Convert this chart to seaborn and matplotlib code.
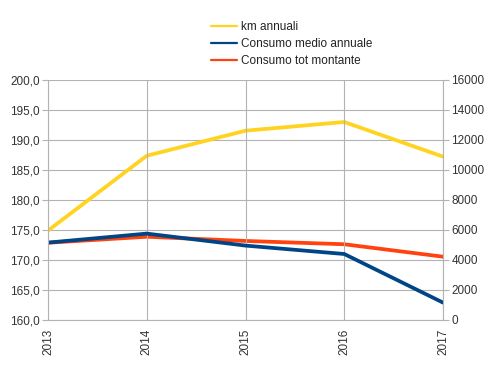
import matplotlib
matplotlib.use("Agg")
import matplotlib.pyplot as plt
import seaborn as sns
import pandas as pd
from matplotlib.ticker import FuncFormatter, MultipleLocator

years = [2013, 2014, 2015, 2016, 2017]
km_annuali = [5960, 10950, 12620, 13200, 10890]
consumo_medio = [172.9, 174.4, 172.4, 171.0, 162.9]
consumo_tot = [5150, 5550, 5270, 5050, 4220]
labels = ["km annuali", "Consumo medio annuale", "Consumo tot montante"]

sns.set_style("white")
plt.rcParams['font.family'] = ['Liberation Sans', 'DejaVu Sans']

W, H = 499, 377
fig = plt.figure(figsize=(W / 100, H / 100), dpi=100)
left, right, top, bottom = 48, 443, 80, 320
ax = fig.add_axes([left / W, 1 - bottom / H, (right - left) / W, (bottom - top) / H])
ax2 = ax.twinx()

df = pd.DataFrame({"year": years, "km": km_annuali, "medio": consumo_medio, "tot": consumo_tot})

gridc = "#b3b3b3"
lw = 2.7
sns.lineplot(data=df, x="year", y="km", ax=ax2, color="#FFD320", linewidth=lw, label=labels[0], legend=False)
sns.lineplot(data=df, x="year", y="tot", ax=ax2, color="#FF420E", linewidth=lw, label=labels[2], legend=False)
sns.lineplot(data=df, x="year", y="medio", ax=ax, color="#004586", linewidth=lw, label=labels[1], legend=False)

ax.set_zorder(ax2.get_zorder() + 1)
ax.patch.set_visible(False)

ax.set_xlim(2013, 2017)
ax.set_ylim(160, 200)
ax2.set_ylim(0, 16000)
ax.yaxis.set_major_locator(MultipleLocator(5))
ax2.yaxis.set_major_locator(MultipleLocator(2000))
ax.set_xticks(years)
ax.set_xticklabels([str(y) for y in years], rotation=90)
ax.yaxis.set_major_formatter(FuncFormatter(lambda v, p: f"{v:.1f}".replace(".", ",")))
ax2.yaxis.set_major_formatter(FuncFormatter(lambda v, p: f"{int(v)}"))

for a in (ax, ax2):
    a.set_xlabel("")
    a.set_ylabel("")
    for s in a.spines.values():
        s.set_visible(False)
    a.tick_params(labelsize=8.5, colors="#333333", length=4, width=0.8, pad=2)
    a.tick_params(color=gridc)

ax2.grid(axis="y", color=gridc, linewidth=0.8)
ax2.grid(axis="x", visible=False)
ax.grid(axis="x", color=gridc, linewidth=0.8)
ax.grid(axis="y", visible=False)
ax.set_axisbelow(True)
ax2.set_axisbelow(True)
ax.spines["left"].set_visible(True)
ax.spines["left"].set_color(gridc)
ax.spines["bottom"].set_visible(True)
ax.spines["bottom"].set_color(gridc)
ax2.spines["right"].set_visible(True)
ax2.spines["right"].set_color(gridc)

h1, l1 = ax.get_legend_handles_labels()
h2, l2 = ax2.get_legend_handles_labels()
hm = dict(zip(l1 + l2, h1 + h2))
fs = 8.5
fpx = fs * 100 / 72
leg = fig.legend([hm[l] for l in labels], labels, loc="upper left",
                 bbox_to_anchor=(203 / W, 1 - 13 / H), frameon=False, fontsize=fs,
                 handlelength=26 / fpx, handletextpad=4 / fpx, labelspacing=0.42,
                 borderpad=0.2)
for t in leg.get_texts():
    t.set_color("#222222")
for line in leg.get_lines():
    line.set_linewidth(1.6)

fig.savefig("out.png", dpi=100)
